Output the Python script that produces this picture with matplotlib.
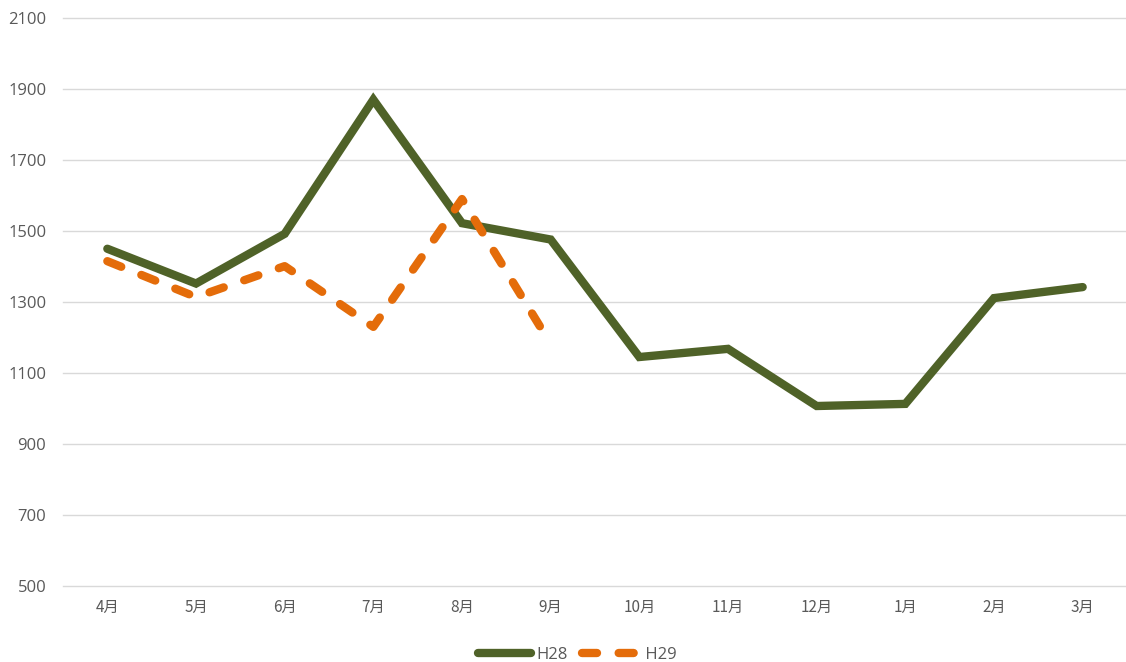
import matplotlib
matplotlib.use("Agg")
import matplotlib.pyplot as plt
from matplotlib.lines import Line2D

months = ["4月", "5月", "6月", "7月", "8月", "9月", "10月", "11月", "12月", "1月", "2月", "3月"]
h28 = [1450, 1352, 1492, 1870, 1522, 1476, 1145, 1168, 1007, 1013, 1311, 1342]
h29 = [1415, 1314, 1401, 1230, 1590, 1182]
yticks = [500, 700, 900, 1100, 1300, 1500, 1700, 1900, 2100]

green = "#4F6228"
orange = "#E46C0A"

fig = plt.figure(figsize=(11.26, 6.62), dpi=100)
ax = fig.add_axes([63/1126, 1-586/662, (1127-63)/1126, (586-18)/662])

x = list(range(len(months)))
ax.plot(x, h28, color=green, lw=6, solid_capstyle="round", solid_joinstyle="miter", label="H28", zorder=3)
ax.plot(x[:len(h29)], h29, color=orange, lw=6, dash_capstyle="round", dashes=(1.8, 2.6), label="H29", zorder=4)

ax.set_xlim(-0.5, len(months)-0.5)
ax.set_ylim(500, 2100)
ax.set_yticks(yticks)
ax.set_xticks(x)
ax.set_xticklabels(months, fontfamily=["Noto Sans CJK JP", "DejaVu Sans"], fontsize=11, color="#595959")
ax.set_yticklabels([str(v) for v in yticks], fontfamily=["Open Sans", "DejaVu Sans"], fontsize=12, color="#595959")
ax.tick_params(axis="both", length=0)
ax.tick_params(axis="y", pad=12)
ax.tick_params(axis="x", pad=9)
ax.grid(axis="y", color="#D9D9D9", lw=1)
for gl in ax.get_ygridlines():
    gl.set_clip_on(False)
ax.set_axisbelow(True)
for s in ax.spines.values():
    s.set_visible(False)

handles = [Line2D([], [], color=green, lw=6, solid_capstyle="round"),
           Line2D([], [], color=orange, lw=6, dash_capstyle="round", dashes=(1.8, 2.6))]
leg = fig.legend(handles, ["H28", " H29"], loc="center", bbox_to_anchor=(577/1126, 1-655/662),
                 ncol=2, frameon=False, handlelength=3.2, columnspacing=0.9, handletextpad=0.3,
                 prop={"family": ["Open Sans", "DejaVu Sans"], "size": 12})
for t in leg.get_texts():
    t.set_color("#595959")

fig.savefig("out.png", dpi=100)
